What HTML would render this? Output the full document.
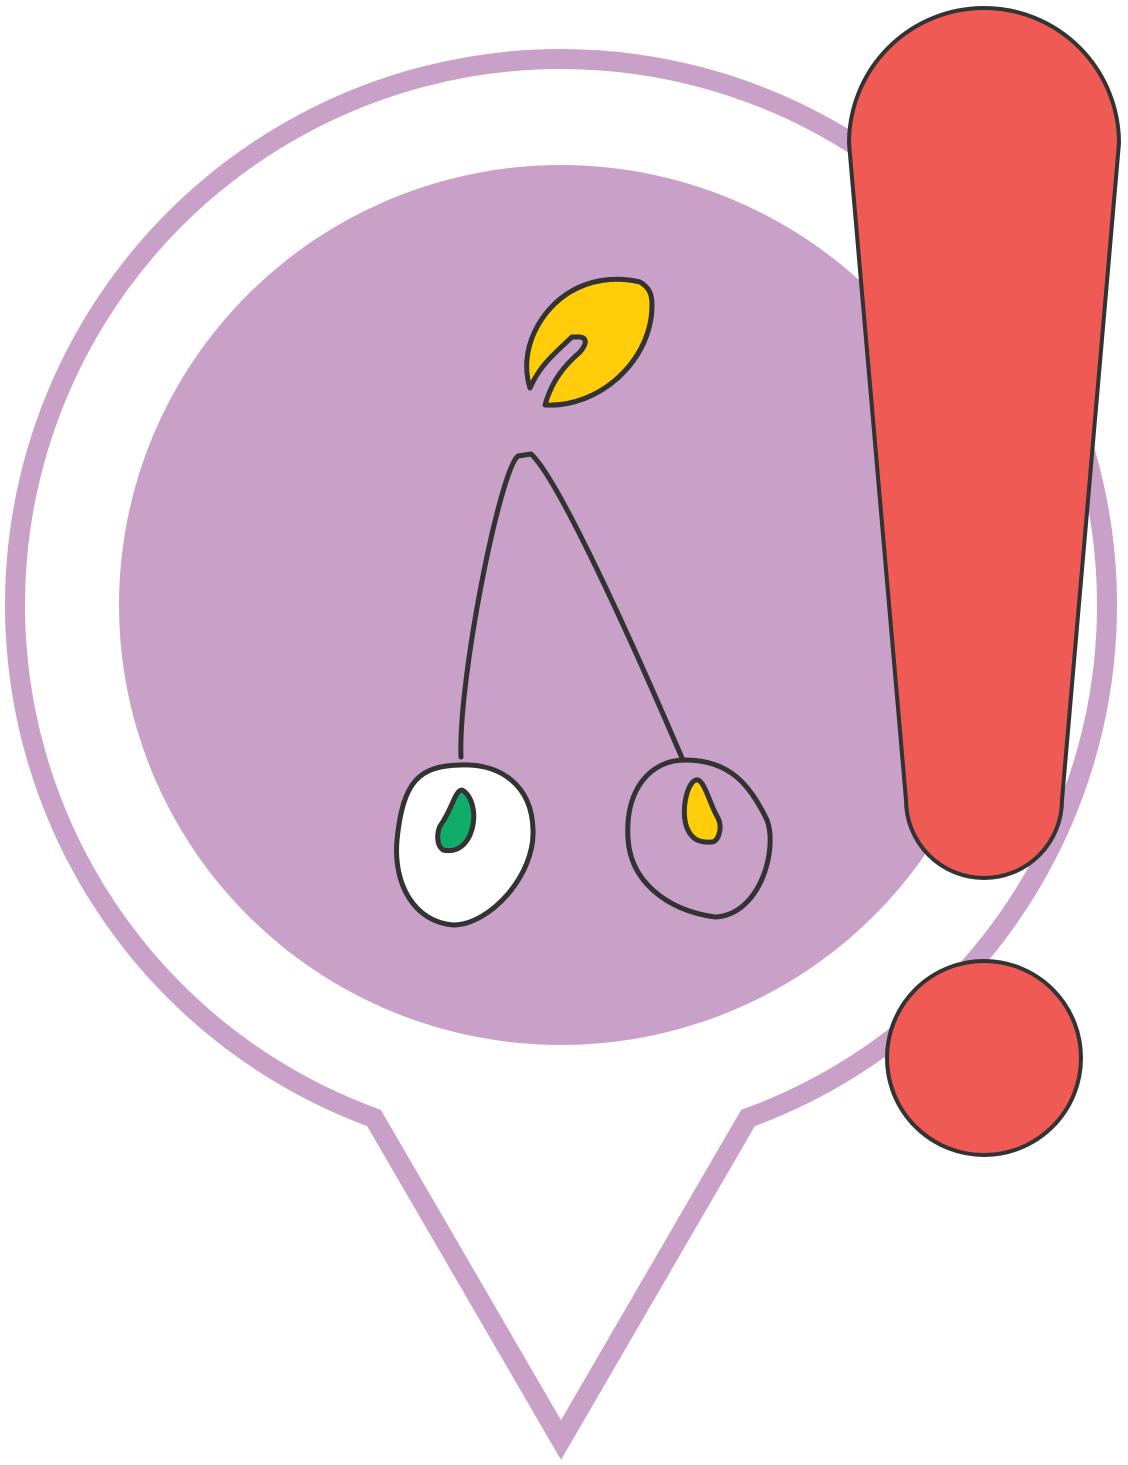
<!DOCTYPE html>
<html>
<head>
<meta charset="utf-8">
<style>
html,body{margin:0;padding:0;background:#fff;}
svg{display:block;}
</style>
</head>
<body>
<svg width="1128" height="1465" viewBox="0 0 1128 1465" xmlns="http://www.w3.org/2000/svg">
  <path d="M374 1118 A546 546 0 1 1 748 1118 L561 1440 Z" fill="#fff" stroke="#c9a0c8" stroke-width="20" stroke-linejoin="miter"/>
  <ellipse cx="561" cy="605" rx="442" ry="440" fill="#c9a0c8"/>

  <g stroke="#333" stroke-width="5" stroke-linecap="round" stroke-linejoin="round">
    <path d="M530 388 C518 350 540 310 570 292 C590 280 615 276 640 282 C650 288 652 295 652 305 C652 360 600 408 545 405 C552 380 565 365 580 352 C586 345 588 338 580 337 L572 337 C555 353 540 365 530 388 Z" fill="#ffcd0a"/>
    <path d="M461 757 C458 680 500 470 518 456 L531 454 C560 480 640 660 682 758" fill="none"/>
    <path d="M460 765 C500 763 532 785 533 830 C535 875 490 925 453 925 C415 922 393 885 397 840 C403 780 420 766 460 765 Z" fill="#fff"/>
    <path d="M462 790 C472 795 478 815 470 835 C463 850 452 852 443 850 C436 845 437 833 440 826 C452 810 455 790 462 790 Z" fill="#10ad68"/>
    <path d="M685 760 C730 760 750 785 767 820 C778 850 760 915 715 917 C665 910 630 880 628 838 C625 790 650 760 685 760 Z" fill="#c9a0c8"/>
    <path d="M698 780 C705 782 710 805 718 818 C723 828 718 842 712 842 C700 843 692 840 687 828 C680 810 688 778 698 780 Z" fill="#ffcd0a"/>
  </g>

  <g fill="#f05a55" stroke="#333" stroke-width="4">
    <path d="M849 143 A135 135 0 1 1 1119 143 L1062 800 A78 78 0 0 1 906 800 Z"/>
    <circle cx="984" cy="1058" r="97"/>
  </g>
</svg>
</body>
</html>
